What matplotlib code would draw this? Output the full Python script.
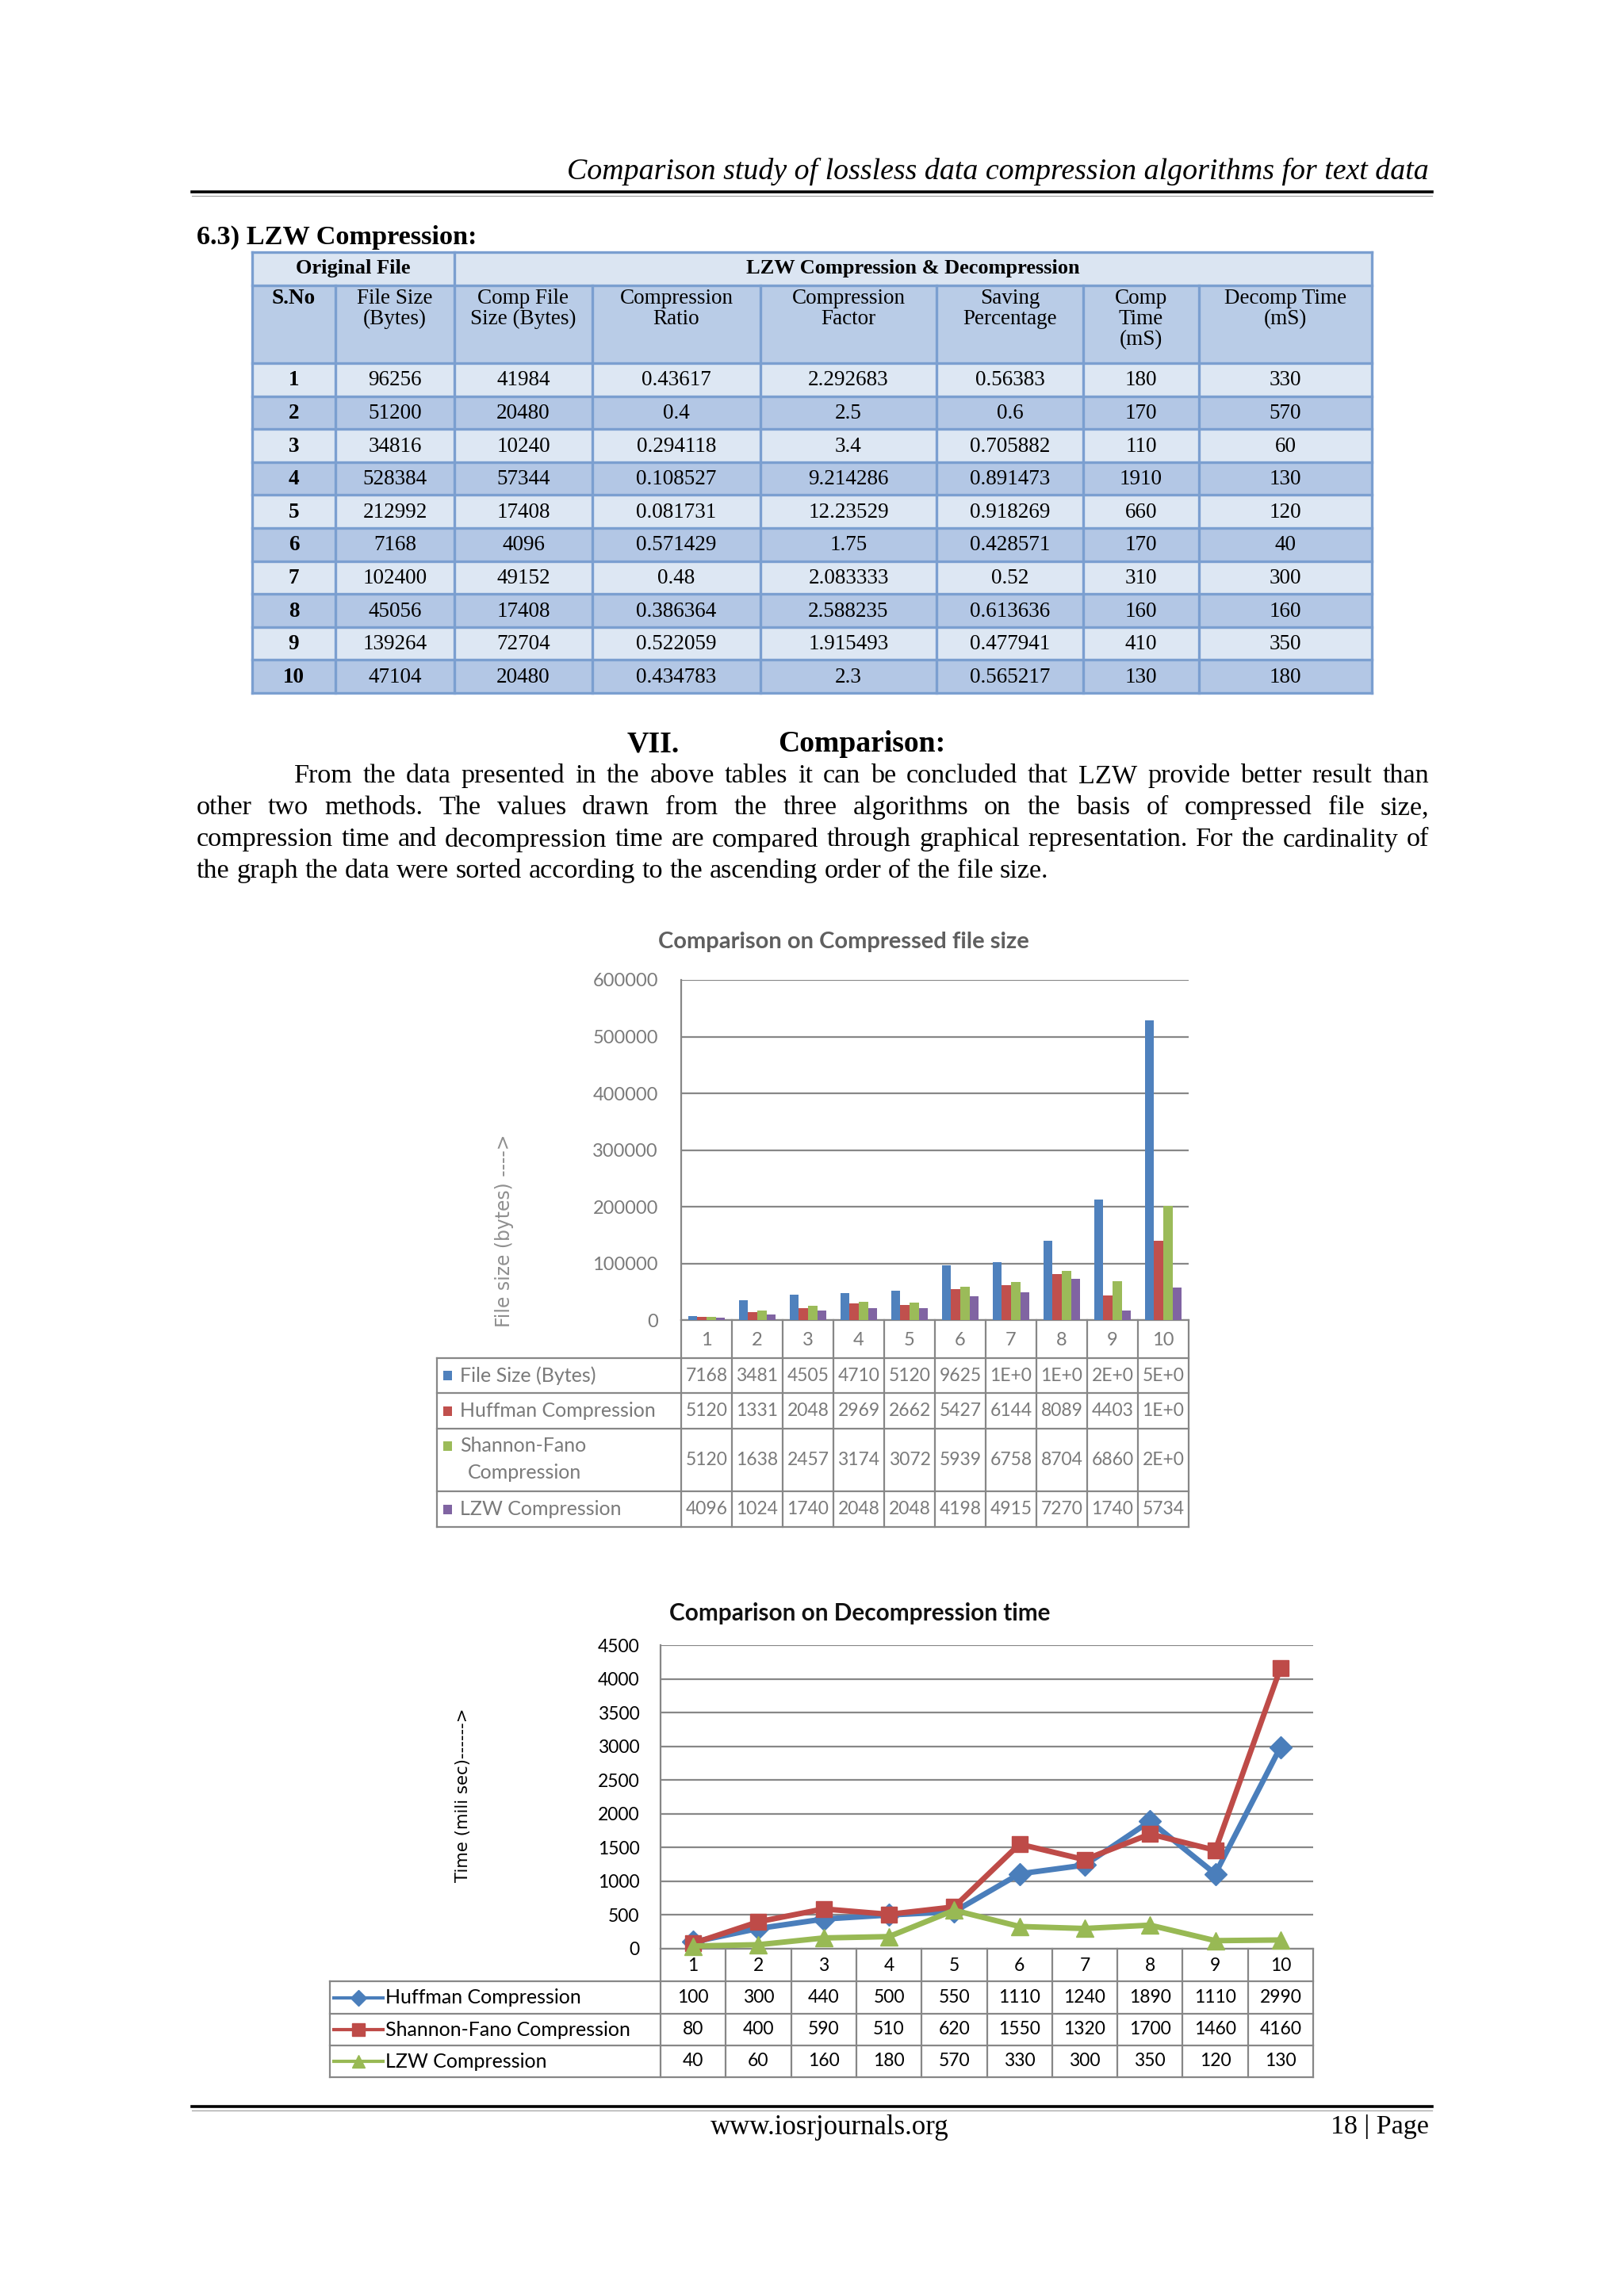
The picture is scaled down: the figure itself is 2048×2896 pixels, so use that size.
import matplotlib
matplotlib.use('Agg')
import matplotlib.pyplot as plt
import numpy as np
from matplotlib.lines import Line2D
from matplotlib.patches import Rectangle
from matplotlib.transforms import blended_transform_factory

W, H = 2048, 2896

# LZW table (6.3)
s_no = list(range(1, 11))
file_size = [96256, 51200, 34816, 528384, 212992, 7168, 102400, 45056, 139264, 47104]
comp_size = [41984, 20480, 10240, 57344, 17408, 4096, 49152, 17408, 72704, 20480]
comp_ratio = ['0.43617', '0.4', '0.294118', '0.108527', '0.081731', '0.571429', '0.48', '0.386364', '0.522059', '0.434783']
comp_factor = ['2.292683', '2.5', '3.4', '9.214286', '12.23529', '1.75', '2.083333', '2.588235', '1.915493', '2.3']
saving_pct = ['0.56383', '0.6', '0.705882', '0.891473', '0.918269', '0.428571', '0.52', '0.613636', '0.477941', '0.565217']
comp_time = [180, 170, 110, 1910, 660, 170, 310, 160, 410, 130]
decomp_time = [330, 570, 60, 130, 120, 40, 300, 160, 350, 180]
table_head = ['S.No', 'File Size\n(Bytes)', 'Comp File\nSize (Bytes)', 'Compression\nRatio',
              'Compression\nFactor', 'Saving\nPercentage', 'Comp\nTime\n(mS)', 'Decomp Time\n(mS)']

# chart 1: compressed file size (sorted by file size)
categories = [str(i) for i in range(1, 11)]
size_original = [7168, 34816, 45056, 47104, 51200, 96256, 102400, 139264, 212992, 528384]
size_huffman = [5120, 13312, 20480, 29696, 26624, 54272, 61440, 80896, 44032, 140288]
size_shannon = [5120, 16384, 24576, 31744, 30720, 59392, 67584, 87040, 68608, 200704]
size_lzw = [4096, 10240, 17408, 20480, 20480, 41984, 49152, 72704, 17408, 57344]

# chart 2: decompression time
time_huffman = [100, 300, 440, 500, 550, 1110, 1240, 1890, 1110, 2990]
time_shannon = [80, 400, 590, 510, 620, 1550, 1320, 1700, 1460, 4160]
time_lzw = [40, 60, 160, 180, 570, 330, 300, 350, 120, 130]

SERIF = ['Liberation Serif', 'DejaVu Serif']
SANS = ['Lato', 'DejaVu Sans']
plt.rcParams['font.family'] = SANS

fig = plt.figure(figsize=(W / 100, H / 100), dpi=100)
fig.patch.set_facecolor('white')
renderer = fig.canvas.get_renderer()


def fx(x):
    return x / W


def fy(y):
    return 1 - y / H


def put(x, y, s, **kw):
    return fig.text(fx(x), fy(y), s, **kw)


def fit(t, width):
    # scale text so its long side is `width` pixels
    bb = t.get_window_extent(renderer)
    t.set_fontsize(t.get_fontsize() * width / max(bb.width, bb.height))
    return t


def hline(x0, x1, y, color, lw):
    fig.add_artist(Line2D([fx(x0), fx(x1)], [fy(y), fy(y)], color=color, lw=lw))


def vline(x, y0, y1, color, lw):
    fig.add_artist(Line2D([fx(x), fx(x)], [fy(y0), fy(y1)], color=color, lw=lw))


def excel_cell(v):
    # narrow excel column shows truncated numbers
    s = str(v)
    if len(s) <= 4:
        return s
    if len(s) == 5:
        return s[:4]
    return ('%.0E' % v)[:4]


# ---------------- page header ----------------
t = put(1802, 216, 'Comparison study of lossless data compression algorithms for text data',
        family=SERIF, style='italic', ha='right', va='center', fontsize=20)
fit(t, 1085)
hline(242, 1806, 242, 'black', 2.6)
hline(242, 1806, 246.5, '#9a9a9a', 0.8)

t = put(248, 299, '6.3) LZW Compression:', family=SERIF, weight='bold', ha='left', va='center', fontsize=20)
fit(t, 354)

# ---------------- LZW table ----------------
cols = [318, 423, 573, 747, 959, 1181, 1366, 1512, 1730]
rows = [318, 360, 458] + [458 + 41.6 * k for k in range(1, 11)]
light, dark, mid, border = '#dde7f3', '#b3c7e5', '#b9cce7', '#7b9fd0'

fig.add_artist(Rectangle((fx(318), fy(360)), fx(1730) - fx(318), fy(318) - fy(360),
                         transform=fig.transFigure, facecolor='#dbe5f2', edgecolor='none'))
fig.add_artist(Rectangle((fx(318), fy(458)), fx(1730) - fx(318), fy(360) - fy(458),
                         transform=fig.transFigure, facecolor=mid, edgecolor='none'))
for k in range(10):
    fig.add_artist(Rectangle((fx(318), fy(rows[k + 3])), fx(1730) - fx(318), fy(rows[k + 2]) - fy(rows[k + 3]),
                             transform=fig.transFigure, facecolor=light if k % 2 == 0 else dark,
                             edgecolor='none'))
for y in rows:
    hline(318, 1730, y, border, 2.4)
for x in cols:
    vline(x, 318 if x in (318, 573, 1730) else 360, rows[-1], border, 2.4)

put((318 + 573) / 2, 339, 'Original File', family=SERIF, weight='bold', ha='center', va='center', fontsize=19)
put((573 + 1730) / 2, 339, 'LZW Compression & Decompression', family=SERIF, weight='bold',
    ha='center', va='center', fontsize=19)
for j, lab in enumerate(table_head):
    put((cols[j] + cols[j + 1]) / 2, 364, lab, family=SERIF, ha='center', va='top', fontsize=19.5,
        linespacing=1.05, weight='bold' if j == 0 else 'normal')

table_cols = [s_no, file_size, comp_size, comp_ratio, comp_factor, saving_pct, comp_time, decomp_time]
for k in range(10):
    yc = (rows[k + 2] + rows[k + 3]) / 2
    for j, colv in enumerate(table_cols):
        put((cols[j] + cols[j + 1]) / 2, yc + 1, str(colv[k]), family=SERIF, ha='center', va='center',
            fontsize=19.5, weight='bold' if j == 0 else 'normal')

# ---------------- section VII ----------------
t = put(791, 939, 'VII.', family=SERIF, weight='bold', ha='left', va='center', fontsize=20)
fit(t, 66)
t = put(981, 939, 'Comparison:', family=SERIF, weight='bold', ha='left', va='center', fontsize=20)
fit(t, 211)

para = [
    'From the data presented in the above tables it can be concluded that LZW provide better result than',
    'other two methods. The values drawn from the three algorithms on the basis of compressed file size,',
    'compression time and decompression time are compared through graphical representation. For the cardinality of',
    'the graph the data were sorted according to the ascending order of the file size.',
]
t = put(0, 0, para[2], family=SERIF, fontsize=20)
fit(t, 1535)
psize = t.get_fontsize()
t.remove()
para_y = [979, 1019, 1059, 1099]
for n, line in enumerate(para):
    x0 = 371 if n == 0 else 248
    words = line.split()
    texts = [put(x0, para_y[n], w, family=SERIF, fontsize=psize, ha='left', va='center') for w in words]
    widths = [tt.get_window_extent(renderer).width for tt in texts]
    if n == len(para) - 1:
        gap = psize * 100 / 72 * 0.25
    else:
        gap = (1802 - x0 - sum(widths)) / (len(words) - 1)
    x = x0
    for tt, w in zip(texts, widths):
        tt.set_x(fx(x))
        x += w + gap

# ---------------- chart 1: compressed file size ----------------
grid_c = '#878787'
gray_t = '#7a7a7a'
colors1 = ['#4f81bd', '#c0504d', '#9bbb59', '#8064a2']
series1 = [('File Size (Bytes)', size_original), ('Huffman Compression', size_huffman),
           ('Shannon-Fano Compression', size_shannon), ('LZW Compression', size_lzw)]

ax1 = fig.add_axes([fx(859), fy(1665), (1499 - 859) / W, (1665 - 1236) / H])
xpos = np.arange(len(categories))
bw = 0.18
for k, (name, vals) in enumerate(series1):
    ax1.bar(xpos + (k - 1.5) * bw, vals, bw, color=colors1[k], zorder=3)
ax1.set_xlim(-0.5, 9.5)
ax1.set_ylim(0, 600000)
ax1.set_yticks(range(0, 600001, 100000))
ax1.set_xticks([])
ax1.yaxis.grid(True, color=grid_c, lw=1.6)
ax1.set_axisbelow(True)
for s in ['top', 'right']:
    ax1.spines[s].set_visible(False)
for s in ['left', 'bottom']:
    ax1.spines[s].set_color(grid_c)
    ax1.spines[s].set_linewidth(1.6)
ax1.tick_params(axis='y', length=0, pad=21, labelsize=17, labelcolor=gray_t)

t = put(1064, 1188, 'Comparison on Compressed file size', weight='bold', color='#5f5f5f',
        ha='center', va='center', fontsize=18)
fit(t, 469)
t = put(636, 1552, 'File size (bytes) ---->', family=['DejaVu Sans'], rotation=90, color='#8f8f8f',
        ha='center', va='center', fontsize=14)
fit(t, 246)

bt1 = blended_transform_factory(ax1.transData, fig.transFigure)
row_y1 = [1713, 1757, 1802, 1881, 1926]
for i, c in enumerate(categories):
    ax1.text(i, fy(1690), c, transform=bt1, ha='center', va='center', color=gray_t, fontsize=17, clip_on=False)
for b in np.arange(-0.5, 10):
    ax1.plot([b, b], [fy(1665), fy(1926)], transform=bt1, clip_on=False, color=grid_c, lw=1.6)
vline(551, 1713, 1926, grid_c, 1.6)
for y in row_y1:
    hline(551, 1499, y, grid_c, 1.6)
for k, (name, vals) in enumerate(series1):
    y0, y1 = row_y1[k], row_y1[k + 1]
    yc = (y0 + y1) / 2
    ky = y0 + 22 if k == 2 else yc
    fig.add_artist(Rectangle((fx(559), fy(ky + 6)), fx(570) - fx(559), fy(ky - 6) - fy(ky + 6),
                             transform=fig.transFigure, facecolor=colors1[k], edgecolor='none'))
    if k == 2:
        put(580, ky, 'Shannon-Fano', color=gray_t, ha='left', va='center', fontsize=18)
        put(590, ky + 34, 'Compression', color=gray_t, ha='left', va='center', fontsize=18)
    else:
        put(580, ky, name, color=gray_t, ha='left', va='center', fontsize=18)
    for i, v in enumerate(vals):
        ax1.text(i, fy(yc), excel_cell(v), transform=bt1, ha='center', va='center', color=gray_t,
                 fontsize=16.5, clip_on=False)

# ---------------- chart 2: decompression time ----------------
colors2 = ['#4a7ebb', '#be4b48', '#98b954']
series2 = [('Huffman Compression', time_huffman, 'D', 14), ('Shannon-Fano Compression', time_shannon, 's', 15),
           ('LZW Compression', time_lzw, '^', 16)]

ax2 = fig.add_axes([fx(833), fy(2458), (1656 - 833) / W, (2458 - 2075) / H])
for k, (name, vals, mk, ms) in enumerate(series2):
    ax2.plot(xpos, vals, color=colors2[k], lw=5, marker=mk, markersize=ms, zorder=3, clip_on=False)
ax2.set_xlim(-0.5, 9.5)
ax2.set_ylim(0, 4500)
ax2.set_yticks(range(0, 4501, 500))
ax2.set_xticks([])
ax2.yaxis.grid(True, color=grid_c, lw=1.6)
ax2.set_axisbelow(True)
for s in ['top', 'right']:
    ax2.spines[s].set_visible(False)
for s in ['left', 'bottom']:
    ax2.spines[s].set_color(grid_c)
    ax2.spines[s].set_linewidth(1.6)
ax2.tick_params(axis='y', length=0, pad=19, labelsize=16.5, labelcolor='black')

t = put(1084, 2035, 'Comparison on Decompression time', weight='bold', color='#111111',
        ha='center', va='center', fontsize=18)
fit(t, 482)
t = put(584, 2264, 'Time (mili sec)------>', family=['DejaVu Sans'], rotation=90, color='black',
        ha='center', va='center', fontsize=14)
fit(t, 222)

bt2 = blended_transform_factory(ax2.transData, fig.transFigure)
row_y2 = [2499, 2540, 2580, 2620]
for i, c in enumerate(categories):
    ax2.text(i, fy(2479), c, transform=bt2, ha='center', va='center', color='black', fontsize=16.5, clip_on=False)
for b in np.arange(-0.5, 10):
    ax2.plot([b, b], [fy(2458), fy(2620)], transform=bt2, clip_on=False, color=grid_c, lw=1.6)
vline(416, 2499, 2620, grid_c, 1.6)
for y in row_y2:
    hline(416, 1656, y, grid_c, 1.6)
for k, (name, vals, mk, ms) in enumerate(series2):
    yc = (row_y2[k] + row_y2[k + 1]) / 2
    fig.add_artist(Line2D([fx(421), fx(483)], [fy(yc), fy(yc)], color=colors2[k], lw=3))
    fig.add_artist(Line2D([fx(452)], [fy(yc)], color=colors2[k], marker=mk, markersize=ms * 0.75, lw=0))
    put(486, yc, name, color='black', ha='left', va='center', fontsize=18)
    for i, v in enumerate(vals):
        ax2.text(i, fy(yc), str(v), transform=bt2, ha='center', va='center', color='black',
                 fontsize=16.5, clip_on=False)

# ---------------- footer ----------------
hline(242, 1806, 2657, 'black', 2.6)
hline(242, 1806, 2661.5, '#9a9a9a', 0.8)
t = put(1046, 2683, 'www.iosrjournals.org', family=SERIF, ha='center', va='center', fontsize=20)
fit(t, 300)
t = put(1802, 2683, '18 | Page', family=SERIF, ha='right', va='center', fontsize=20)
fit(t, 124)

fig.savefig('out.png', dpi=100, facecolor='white')
